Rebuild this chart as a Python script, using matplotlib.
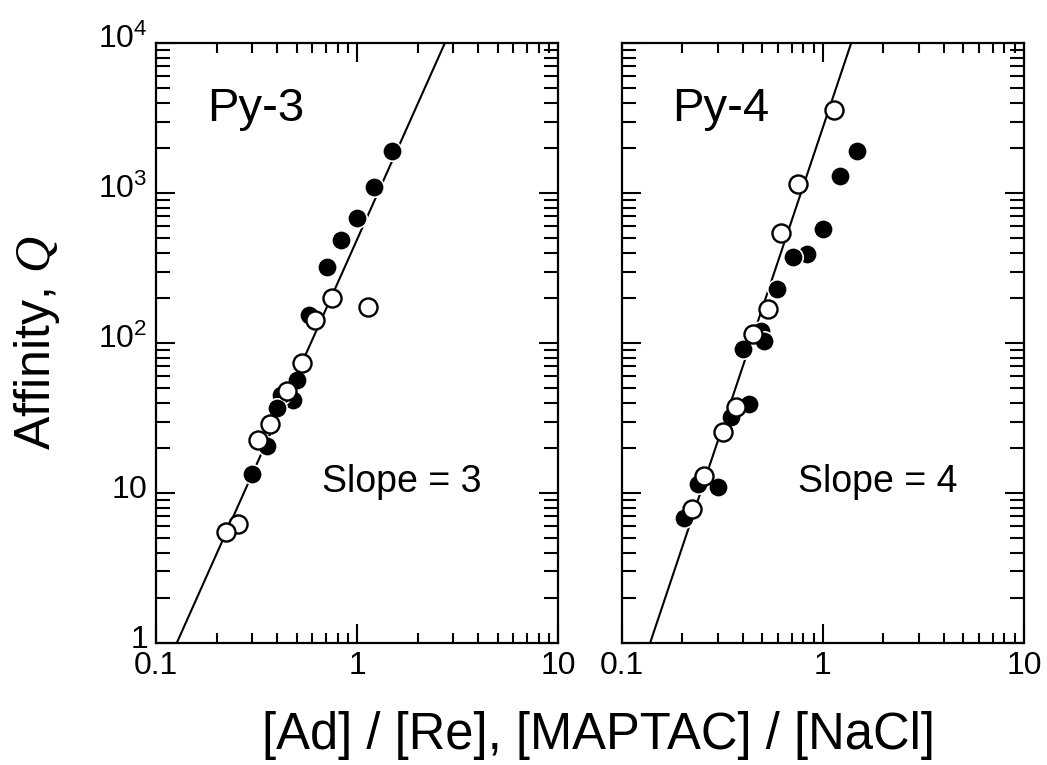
import numpy as np
import matplotlib.pyplot as plt
from matplotlib.ticker import LogLocator, NullFormatter, FixedLocator, FixedFormatter
from matplotlib.transforms import ScaledTranslation

plt.rcParams['font.family'] = ['Liberation Sans', 'DejaVu Sans']
plt.rcParams['mathtext.fontset'] = 'custom'
plt.rcParams['mathtext.rm'] = 'Liberation Sans'
plt.rcParams['mathtext.it'] = 'Liberation Serif:italic'
plt.rcParams['mathtext.default'] = 'regular'

# Py-3 panel
py3_filled_x = [1.49, 1.22, 1.0, 0.83, 0.71, 0.58, 0.50, 0.48, 0.42, 0.40, 0.355, 0.30]
py3_filled_y = [1900, 1100, 680, 490, 320, 155, 57, 42, 45, 37, 20.5, 13.5]
py3_open_x = [0.75, 1.14, 0.62, 0.53, 0.45, 0.37, 0.32, 0.255, 0.223]
py3_open_y = [200, 175, 142, 74, 48, 29, 22.5, 6.2, 5.5]
py3_slope, py3_coef = 3, 490

# Py-4 panel
py4_filled_x = [1.48, 1.21, 1.0, 0.83, 0.71, 0.59, 0.49, 0.51, 0.40, 0.43, 0.35, 0.24, 0.30, 0.203]
py4_filled_y = [1900, 1300, 575, 395, 375, 228, 120, 103, 92, 39.5, 32, 11.5, 10.9, 6.8]
py4_open_x = [1.14, 0.75, 0.62, 0.53, 0.45, 0.37, 0.32, 0.255, 0.222]
py4_open_y = [3600, 1150, 540, 168, 115, 37.5, 25.7, 13, 7.8]
py4_slope, py4_coef = 4, 2750

xticks = [0.1, 1, 10]
xticklabels = ['0.1', '1', '10']
yticks = [1, 10, 100, 1000, 10000]
yticklabels = [r'$1\enspace$', r'$10\enspace$', r'$10^{2}$', r'$10^{3}$', r'$10^{4}$']

fig = plt.figure(figsize=(10.47, 7.65), dpi=100)
ax1 = fig.add_axes([0.149, 0.1595, 0.384, 0.784])
ax2 = fig.add_axes([0.594, 0.1595, 0.384, 0.784])

panels = [
    (ax1, py3_filled_x, py3_filled_y, py3_open_x, py3_open_y, py3_slope, py3_coef, 'Py-3', 'Slope = 3', 0.126, 0.412),
    (ax2, py4_filled_x, py4_filled_y, py4_open_x, py4_open_y, py4_slope, py4_coef, 'Py-4', 'Slope = 4', 0.124, 0.439),
]

for ax, fx, fy, ox, oy, slope, coef, name, slope_txt, nx, sx in panels:
    xs = np.logspace(-1, 1, 100)
    ax.plot(xs, coef * xs ** slope, color='black', lw=1.5, zorder=1)
    ax.plot(fx, fy, 'o', ms=14, mfc='black', mec='white', mew=1.2, zorder=2)
    ax.plot(ox, oy, 'o', ms=13, mfc='white', mec='black', mew=1.7, zorder=3)

    ax.set_xscale('log')
    ax.set_yscale('log')
    ax.set_xlim(0.1, 10)
    ax.set_ylim(1, 10000)

    ax.xaxis.set_major_locator(FixedLocator(xticks))
    ax.xaxis.set_major_formatter(FixedFormatter(xticklabels))
    ax.yaxis.set_major_locator(FixedLocator(yticks))
    if ax is ax1:
        ax.yaxis.set_major_formatter(FixedFormatter(yticklabels))
    else:
        ax.yaxis.set_major_formatter(NullFormatter())
    ax.xaxis.set_minor_locator(LogLocator(base=10, subs=np.arange(2, 10), numticks=20))
    ax.yaxis.set_minor_locator(LogLocator(base=10, subs=np.arange(2, 10), numticks=20))
    ax.xaxis.set_minor_formatter(NullFormatter())
    ax.yaxis.set_minor_formatter(NullFormatter())

    ax.tick_params(which='both', direction='in', top=True, right=True, width=1.5, labelsize=23)
    ax.tick_params(which='major', length=14, pad=6)
    ax.tick_params(axis='x', which='minor', length=7)
    ax.tick_params(axis='y', which='minor', length=10)
    for s in ax.spines.values():
        s.set_linewidth(1.6)

    ax.text(nx, 0.8705, name, transform=ax.transAxes, fontsize=34, va='baseline')
    ax.text(sx, 0.252, slope_txt, transform=ax.transAxes, fontsize=27, va='baseline')

# y tick labels sit a little above their ticks in the original
for lab in ax1.yaxis.get_majorticklabels():
    lab.set_transform(lab.get_transform() + ScaledTranslation(0, 5 / 72, fig.dpi_scale_trans))

fig.text(37 / 1047, 1 - 342 / 765, r'Affinity, $\mathit{Q}$', rotation=90, fontsize=36,
         ha='center', va='center')
fig.text(598 / 1047, 1 - 735 / 765, '[Ad] / [Re], [MAPTAC] / [NaCl]', fontsize=36.5,
         ha='center', va='center')

fig.savefig('out.png', dpi=100)
